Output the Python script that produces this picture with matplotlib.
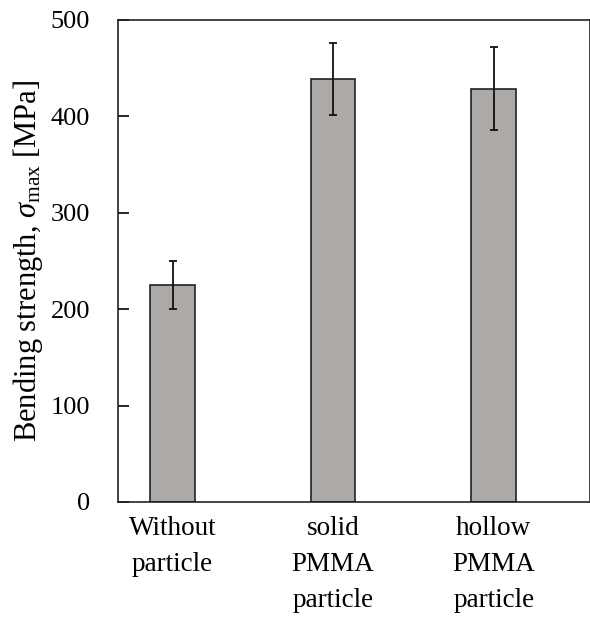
import matplotlib
matplotlib.use("Agg")
import matplotlib.pyplot as plt

categories = ["Without\nparticle", "solid\nPMMA\nparticle", "hollow\nPMMA\nparticle"]
values = [225.5, 439, 428.5]
errors = [24.8, 37.5, 43.0]
yticks = [0, 100, 200, 300, 400, 500]

plt.rcParams['font.family'] = ['Liberation Serif', 'DejaVu Serif']
plt.rcParams['mathtext.fontset'] = 'custom'
plt.rcParams['mathtext.rm'] = 'Liberation Serif'
plt.rcParams['mathtext.it'] = 'Liberation Serif:italic'

fig = plt.figure(figsize=(5.9, 6.19), dpi=100)
ax = fig.add_axes([118/590, 1-502/619, (590-118)/590, (502-20)/619])

x = list(range(len(categories)))
ax.bar(x, values, width=0.277, color='#ada9a7', edgecolor='#222222', linewidth=1.2,
       yerr=errors, error_kw=dict(ecolor='#111111', elinewidth=1.3, capsize=3, capthick=1.3), zorder=2)

ax.set_xlim(-0.34, 2.6)
ax.set_ylim(0, 500)
ax.set_yticks(yticks)
ax.set_xticks(x)
ax.set_xticklabels(categories, fontsize=19.5, linespacing=1.58)
ax.tick_params(axis='y', direction='in', length=8, width=1.2, labelsize=19, pad=20)
ax.tick_params(axis='x', length=0, pad=10)
for s in ax.spines.values():
    s.set_linewidth(1.2)
    s.set_color('#222222')
ax.set_ylabel(r'Bending strength, $\sigma_{\mathrm{max}}$ [MPa]', fontsize=22, labelpad=4)

fig.savefig('out.png', dpi=100)
